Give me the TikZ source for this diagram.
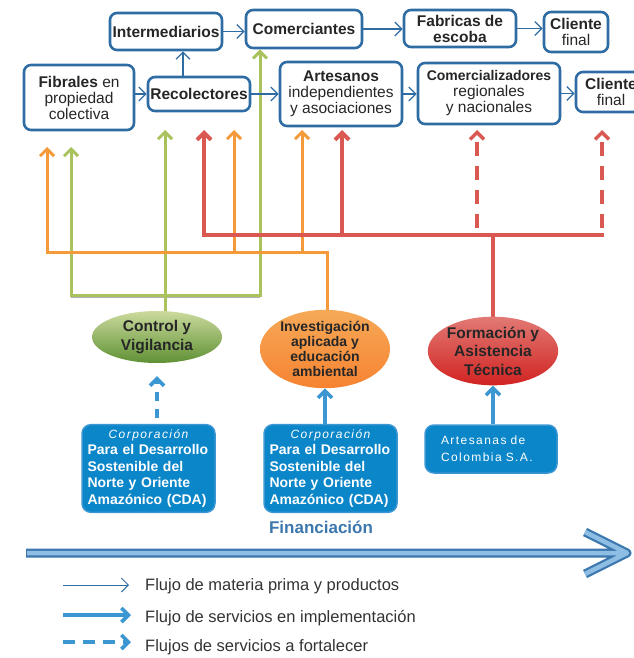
\documentclass[tikz,border=0pt]{standalone}
\usepackage{fontspec}
\setmainfont{Liberation Sans}
\newfontfamily\espaciada[LetterSpace=12]{Liberation Sans}
\usetikzlibrary{arrows.meta}
\usetikzlibrary{backgrounds}
\usetikzlibrary{shapes.geometric}
\definecolor{cMarco}{HTML}{2F6CA3}
\definecolor{cNaranja}{HTML}{F59A3A}
\definecolor{cVerde}{HTML}{A9C25C}
\definecolor{cRojo}{HTML}{DA5852}
\definecolor{cServ}{HTML}{3B96D2}
\definecolor{cAzul}{HTML}{0B86C8}
\definecolor{cFinOsc}{HTML}{3C77AE}
\definecolor{cFinCla}{HTML}{8FBEE4}
\tikzset{>={Straight Barb[length=7pt,width=14pt]},
 caja/.style={draw=cMarco,line width=2.6pt,rounded corners=7pt,fill=white,
   align=center,inner sep=1pt,text=black!85,font=\fontsize{15.5}{16}\selectfont},
 flujo/.style={->,draw=cMarco,line width=1.3pt},
 rama/.style={->,line width=3pt},
 ramaV/.style={rama,draw=cVerde},
 ramaN/.style={rama,draw=cNaranja},
 ramaR/.style={rama,draw=cRojo,line width=4pt},
 elipse/.style={ellipse,minimum width=130pt,inner sep=0pt,align=center,
   text=black!85,font=\bfseries\fontsize{15.5}{18.5}\selectfont},
 cajaAzul/.style={draw=cServ,line width=1.5pt,fill=cAzul,rounded corners=9pt,
   text=white,align=left,font=\bfseries\fontsize{14}{16.5}\selectfont},
 servicio/.style={->,draw=cServ,line width=3.6pt},
 leyenda/.style={anchor=west,inner sep=0pt,text=black!80,font=\fontsize{16.5}{17}\selectfont},
 }

\begin{document}
\begin{tikzpicture}[x=1pt,y=-1pt]
    \useasboundingbox (0,0) rectangle (633,658);
    % cadena de valor
    \node[caja,minimum width=112pt,minimum height=37pt] (inter) at (166,31.5) {\textbf{Intermediarios}};
    \node[caja,minimum width=116pt,minimum height=38pt] (comer) at (304,29) {\textbf{Comerciantes}};
    \node[caja,minimum width=112pt,minimum height=37pt] (fabr) at (460,28.5) {\textbf{Fabricas de}\\\textbf{escoba}};
    \node[caja,minimum width=64pt,minimum height=40pt] (cli1) at (576,32) {\textbf{Cliente}\\final};
    \node[caja,minimum width=110pt,minimum height=65pt] (fibr) at (79,97.5) {\textbf{Fibrales} en\\propiedad\\colectiva};
    \node[caja,minimum width=102pt,minimum height=34pt] (recol) at (199,94) {\textbf{Recolectores}};
    \node[caja,minimum width=122pt,minimum height=64pt] (artes) at (341,94) {\textbf{Artesanos}\\independientes\\y asociaciones};
    \node[caja,minimum width=142pt,minimum height=61pt] (comerc) at (489,93.5) {{\fontsize{14}{16}\selectfont\textbf{Comercializadores}}\\regionales\\y nacionales};
    \node[caja,minimum width=70pt,minimum height=40pt] (cli2) at (611,92) {\textbf{Cliente}\\final};
    \coordinate (rI) at (183,0);
    \draw[flujo] (inter.east) -- (inter.east -| comer.west);
    \draw[flujo] (comer.east) -- (comer.east -| fabr.west);
    \draw[flujo] (fabr.east) -- (fabr.east -| cli1.west);
    \draw[flujo] (fibr.east |- recol) -- (recol.west);
    \draw[flujo] (rI |- recol.north) -- (rI |- inter.south);
    \draw[flujo] (recol.east) -- (recol.east -| artes.west);
    \draw[flujo] (artes.east) -- (artes.east -| comerc.west);
    \draw[flujo] (comerc.east) -- (comerc.east -| cli2.west);
    % servicios
    \node[elipse,minimum height=52pt,top color=cVerde!60!white,bottom color=cVerde!80!green!70!black] (control) at (157,337) {Control y\\Vigilancia};
    \node[elipse,minimum height=72pt,top color=cNaranja!85!white,bottom color=cNaranja!85!red,
      font=\bfseries\fontsize{14}{15}\selectfont] (inv) at (325,349) {Investigación\\aplicada y\\educación\\ambiental};
    \node[elipse,minimum height=68pt,top color=cRojo!80!white,bottom color=red!80!black!60!cRojo] (form) at (493,351) {Formación y\\Asistencia\\Técnica};
    \coordinate (barV) at (0,295);
    \coordinate (barN) at (0,252);
    \coordinate (barR) at (0,235);
    \coordinate (corteR) at (0,228);
    \coordinate (puntaF) at (0,147);
    \coordinate (puntaS) at (0,130);
    \coordinate (xv1) at (71,0);
    \coordinate (xv2) at (165,0);
    \coordinate (xv3) at (260,0);
    \coordinate (xn1) at (47,0);
    \coordinate (xn2) at (234,0);
    \coordinate (xn3) at (302,0);
    \coordinate (xn4) at (327,0);
    \coordinate (xr1) at (204,0);
    \coordinate (xr2) at (342,0);
    \coordinate (xr3) at (477,0);
    \coordinate (xr4) at (602,0);
    \coordinate (xr5) at (604,0);
    \begin{scope}[on background layer]
        \draw[black!30,line width=2.5pt] ([yshift=-2pt]xv1 |- barV) -- ([yshift=-2pt]xv3 |- barV);
        \draw[ramaV,<->] (xv1 |- puntaF) -- (xv1 |- barV) -- (xv3 |- barV) -- (comer.south -| xv3);
        \draw[ramaV] (xv2 |- control.center) -- (xv2 |- puntaS);
        \draw[ramaN] (xn4 |- inv.center) -- (xn4 |- barN) -- (xn1 |- barN) -- (xn1 |- puntaF);
        \draw[ramaN] (xn2 |- barN) -- (xn2 |- puntaS);
        \draw[ramaN] (xn3 |- barN) -- (xn3 |- puntaS);
        \draw[ramaR,-] (form.center) -- (form.center |- barR);
        \draw[ramaR] (xr5 |- barR) -- (xr1 |- barR) -- (xr1 |- puntaS);
        \draw[ramaR] (xr2 |- barR) -- (xr2 |- puntaS);
        \draw[ramaR,line width=3.5pt,dash pattern=on 14pt off 10pt] (xr3 |- corteR) -- (xr3 |- puntaS);
        \draw[ramaR,line width=3.5pt,dash pattern=on 14pt off 10pt] (xr4 |- corteR) -- (xr4 |- puntaS);
    \end{scope}
    % financiadores
    \node[cajaAzul,minimum width=133pt,minimum height=87pt,text width=122pt,inner sep=5pt] (cda1) at (148.5,468.5)
      {\makebox[\linewidth]{\mdseries\itshape\fontsize{12}{12}\selectfont\espaciada Corporación}\\Para el Desarrollo\\Sostenible del\\Norte y Oriente\\Amazónico (CDA)};
    \node[cajaAzul,minimum width=133pt,minimum height=87pt,text width=122pt,inner sep=5pt] (cda2) at (330.5,468.5)
      {\makebox[\linewidth]{\mdseries\itshape\fontsize{12}{12}\selectfont\espaciada Corporación}\\Para el Desarrollo\\Sostenible del\\Norte y Oriente\\Amazónico (CDA)};
    \node[cajaAzul,minimum width=132pt,minimum height=48pt,text width=100pt,inner sep=0pt,
      font=\mdseries\fontsize{12}{17}\selectfont] (art) at (491,449)
      {\espaciada Artesanas de\\Colombia S.A.};
    \draw[servicio,dash pattern=on 9pt off 8pt] ([yshift=6pt]cda1.north -| control.south) -- ([yshift=-13pt]control.south);
    \draw[servicio] (cda2.north -| inv.south) -- (inv.south);
    \draw[servicio] (art.north -| form.south) -- (form.south);
    \node[font=\bfseries\fontsize{17}{19}\selectfont,text=cFinOsc] (fin) at (321,527) {Financiación};
    \coordinate (fA) at (26,553);
    \coordinate (fB) at (627,553);
    \coordinate (fC) at (585,532);
    \coordinate (fD) at (585,574);
    \draw[cFinOsc,line width=9pt,line join=round] (fA) -- (fB) (fC) -- (fB) -- (fD);
    \draw[cFinCla,line width=4.5pt,line join=round] ([xshift=1pt]fA) -- (fB) (fC) -- (fB) -- (fD);
    % leyenda
    \coordinate (l1a) at (63,585);
    \coordinate (l1b) at (129,585);
    \coordinate (l2a) at (63,615);
    \coordinate (l2b) at (131,615);
    \coordinate (l3a) at (63,642);
    \coordinate (l3b) at (131,642);
    \draw[flujo,line width=1pt] (l1a) -- (l1b);
    \draw[servicio] (l2a) -- (l2b);
    \draw[servicio,dash pattern=on 12pt off 8pt] (l3a) -- (l3b);
    \node[leyenda] (ley1) at (145,586) {Flujo de materia prima y productos};
    \node[leyenda] (ley2) at (145,618) {Flujo de servicios en implementación};
    \node[leyenda] (ley3) at (145,647) {Flujos de servicios a fortalecer};
\end{tikzpicture}
\end{document}
